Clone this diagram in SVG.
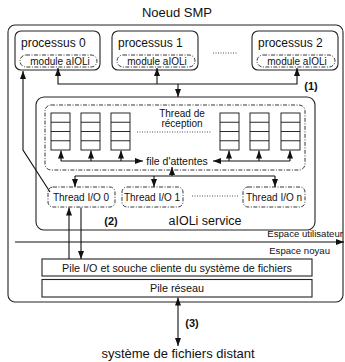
<svg xmlns="http://www.w3.org/2000/svg" width="345" height="362" viewBox="0 0 345 362">
<defs>
<marker id="ah" markerUnits="userSpaceOnUse" markerWidth="8" markerHeight="6" refX="8" refY="3" orient="auto-start-reverse"><path d="M0,0 L8,3 L0,6 z" fill="#111"/></marker>
<style>
text{font-family:"Liberation Sans",Arial,sans-serif;fill:#111}
.box{fill:#fff;stroke:#222;stroke-width:1.1}
.dd{fill:none;stroke:#222;stroke-width:0.9;stroke-dasharray:4 1.5 1 1.5}
.dot{fill:none;stroke:#222;stroke-width:0.8;stroke-dasharray:1 1.5}
.cell{fill:#fff;stroke:#111;stroke-width:0.9}
.c{fill:none;stroke:#111;stroke-width:1.1}
.ar{marker-end:url(#ah)}
.ar2{marker-start:url(#ah);marker-end:url(#ah)}
.b{font-weight:bold;font-size:11px}
</style>
</defs>
<rect width="345" height="362" fill="#fff"/>
<text x="177" y="17" font-size="13" text-anchor="middle">Noeud SMP</text>
<g id="noeud"><rect class="box" x="8" y="25" width="335" height="277" rx="7"/></g>
<g id="processus0"><rect class="box" x="15" y="31" width="85" height="39" rx="6"/><text x="21" y="47" font-size="12">processus 0</text><rect class="dd" x="20" y="55" width="77" height="12" rx="6"/><text x="60" y="65" font-size="10" text-anchor="middle">module aIOLi</text></g>
<g id="processus1"><rect class="box" x="112" y="31" width="86" height="39" rx="6"/><text x="118" y="47" font-size="12">processus 1</text><rect class="dd" x="117" y="55" width="78" height="12" rx="6"/><text x="157" y="65" font-size="10" text-anchor="middle">module aIOLi</text></g>
<line class="dot" x1="213" y1="53" x2="238" y2="53"/>
<g id="processus2"><rect class="box" x="252" y="31" width="86" height="39" rx="6"/><text x="258" y="47" font-size="12">processus 2</text><rect class="dd" x="257" y="55" width="78" height="12" rx="6"/><text x="297" y="65" font-size="10" text-anchor="middle">module aIOLi</text></g>
<g id="service"><rect class="box" x="36" y="97" width="279" height="133" rx="8"/><text x="205" y="225" font-size="12.5" text-anchor="middle">aIOLi service</text><text class="b" x="111" y="225" text-anchor="middle">(2)</text></g>
<g id="reception"><rect class="dd" x="45" y="105" width="260" height="65" rx="6"/><text x="182" y="117" font-size="10" text-anchor="middle">Thread de</text><text x="182" y="127" font-size="10" text-anchor="middle">réception</text><line class="dot" x1="137" y1="132" x2="212" y2="132"/>
<g id="queues">
<rect class="cell" x="51" y="113" width="19" height="37"/><path class="cell" d="M51,122.25H70M51,131.5H70M51,140.75H70"/>
<rect class="cell" x="81" y="113" width="19" height="37"/><path class="cell" d="M81,122.25H100M81,131.5H100M81,140.75H100"/>
<rect class="cell" x="111" y="113" width="19" height="37"/><path class="cell" d="M111,122.25H130M111,131.5H130M111,140.75H130"/>
<rect class="cell" x="220" y="113" width="19" height="37"/><path class="cell" d="M220,122.25H239M220,131.5H239M220,140.75H239"/>
<rect class="cell" x="250" y="113" width="19" height="37"/><path class="cell" d="M250,122.25H269M250,131.5H269M250,140.75H269"/>
<rect class="cell" x="281" y="113" width="19" height="37"/><path class="cell" d="M281,122.25H300M281,131.5H300M281,140.75H300"/>
</g>
<text x="177" y="165" font-size="10.5" text-anchor="middle">file d'attentes</text></g>
<g id="threadio0"><rect class="dd" x="48" y="187" width="67" height="20" rx="5"/><text x="81" y="201" font-size="10" text-anchor="middle">Thread I/O 0</text></g>
<g id="threadio1"><rect class="dd" x="122" y="187" width="61" height="20" rx="5"/><text x="152" y="201" font-size="10" text-anchor="middle">Thread I/O 1</text></g>
<line class="dot" x1="192" y1="196" x2="238" y2="196"/>
<g id="threadion"><rect class="dd" x="243" y="187" width="62" height="20" rx="5"/><text x="274" y="201" font-size="10" text-anchor="middle">Thread I/O n</text></g>
<text x="343" y="237" font-size="9.6" text-anchor="end">Espace utilisateur</text>
<text x="330" y="254" font-size="9.6" text-anchor="end">Espace noyau</text>
<g id="pileio"><rect class="box" x="42" y="259" width="270" height="17"/><text x="177" y="271.5" font-size="10.8" text-anchor="middle">Pile I/O et souche cliente du système de fichiers</text></g>
<g id="pilereseau"><rect class="box" x="42" y="279.5" width="270" height="17.5"/><text x="177" y="292" font-size="10.8" text-anchor="middle">Pile réseau</text></g>
<text class="b" x="192" y="327" text-anchor="middle">(3)</text>
<text x="178" y="358" font-size="13" text-anchor="middle">système de fichiers distant</text>
<text class="b" x="311" y="90" text-anchor="middle">(1)</text>
<g id="connectors">
<path class="c ar2" d="M58,68 V84 H297 V68"/>
<path class="c ar" d="M157,84 V68"/>
<path class="c ar" d="M178,84 V97"/>
<path class="c ar" d="M50,192 L23,150 V71"/>
<path class="c ar" d="M61,161 V150.5"/>
<path class="c ar" d="M91,161 V150.5"/>
<path class="c ar" d="M121,161 V150.5"/>
<path class="c ar" d="M229,161 V150.5"/>
<path class="c ar" d="M259,161 V150.5"/>
<path class="c ar" d="M290,161 V150.5"/>
<path class="c ar" d="M61,161 H143"/>
<path class="c ar" d="M290,161 H213"/>
<path class="c ar" d="M172,176 V167"/>
<path class="c" d="M75,176 H275"/>
<path class="c ar" d="M75,176 V187"/>
<path class="c ar" d="M154,176 V187"/>
<path class="c ar" d="M275,176 V187"/>
<path class="c ar" d="M69,259 V207.5"/>
<path class="c ar" d="M81,207.5 V259"/>
<path class="c ar" d="M15,242 H344"/>
<path class="c ar2" d="M178,297.5 V346"/>
</g>
</svg>
